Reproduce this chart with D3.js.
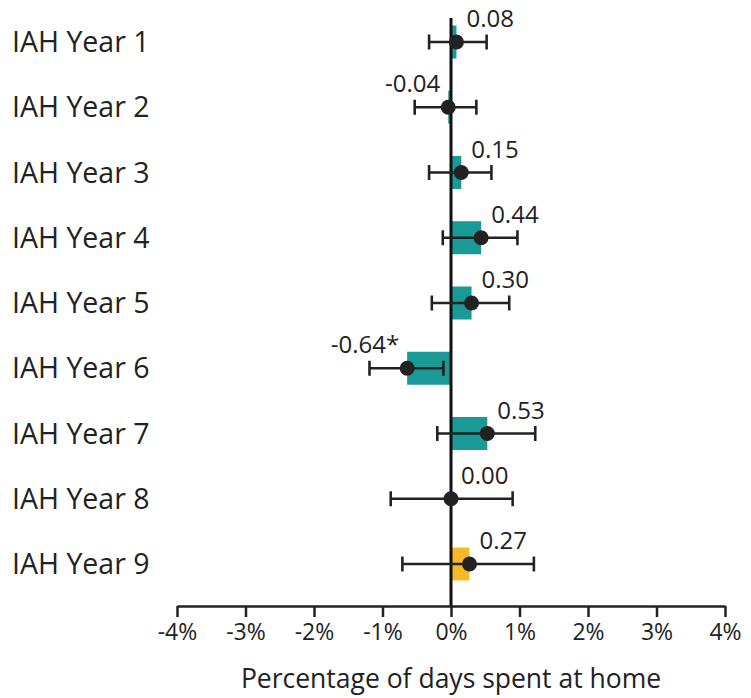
<!DOCTYPE html>
<html>
<head>
<meta charset="utf-8">
<script src="https://cdn.jsdelivr.net/npm/d3@7"></script>
<style>
  html, body { margin: 0; padding: 0; background: #fff; }
  svg { display: block; }
  text { font-family: "Open Sans", "Noto Sans", sans-serif; fill: #222; }
</style>
</head>
<body>
<svg id="chart" width="751" height="698"></svg>
<script>
const categories = ["IAH Year 1","IAH Year 2","IAH Year 3","IAH Year 4","IAH Year 5","IAH Year 6","IAH Year 7","IAH Year 8","IAH Year 9"];
const values = [0.08, -0.04, 0.15, 0.44, 0.30, -0.64, 0.53, 0.00, 0.27];
const lower  = [-0.32, -0.53, -0.32, -0.12, -0.28, -1.19, -0.20, -0.88, -0.71];
const upper  = [0.52, 0.37, 0.59, 0.97, 0.85, -0.11, 1.23, 0.90, 1.21];
const valueLabels = ["0.08","-0.04","0.15","0.44","0.30","-0.64*","0.53","0.00","0.27"];
const groups = ["a","a","a","a","a","a","a","a","b"];
const tickValues = [-4, -3, -2, -1, 0, 1, 2, 3, 4];

const data = categories.map((c, i) => ({
  cat: c, v: values[i], lo: lower[i], hi: upper[i], label: valueLabels[i], g: groups[i]
}));

const svg = d3.select("#chart");
const x = d3.scaleLinear().domain([-4, 4]).range([177, 725]);
const y = d3.scalePoint().domain(categories).range([42, 564]);
const color = d3.scaleOrdinal().domain(["a","b"]).range(["#1a9a96", "#f6b927"]);
const barH = 33;
const axisY = 606;

// bars
svg.append("g").selectAll("rect").data(data).join("rect")
  .attr("x", d => Math.min(x(0), x(d.v)))
  .attr("width", d => Math.abs(x(d.v) - x(0)))
  .attr("y", d => y(d.cat) - barH / 2)
  .attr("height", barH)
  .attr("fill", d => color(d.g));

// zero line
svg.append("line")
  .attr("x1", x(0)).attr("x2", x(0))
  .attr("y1", 18).attr("y2", axisY)
  .attr("stroke", "#111").attr("stroke-width", 3);

// error bars
const eb = svg.append("g").attr("stroke", "#222").attr("stroke-width", 2.6);
eb.selectAll("line.h").data(data).join("line").attr("class", "h")
  .attr("x1", d => x(d.lo)).attr("x2", d => x(d.hi))
  .attr("y1", d => y(d.cat)).attr("y2", d => y(d.cat));
eb.selectAll("line.l").data(data).join("line").attr("class", "l")
  .attr("x1", d => x(d.lo)).attr("x2", d => x(d.lo))
  .attr("y1", d => y(d.cat) - 7.5).attr("y2", d => y(d.cat) + 7.5);
eb.selectAll("line.r").data(data).join("line").attr("class", "r")
  .attr("x1", d => x(d.hi)).attr("x2", d => x(d.hi))
  .attr("y1", d => y(d.cat) - 7.5).attr("y2", d => y(d.cat) + 7.5);

// points
svg.append("g").selectAll("circle").data(data).join("circle")
  .attr("cx", d => x(d.v)).attr("cy", d => y(d.cat))
  .attr("r", 7.5).attr("fill", "#222");

// value labels
svg.append("g").selectAll("text").data(data).join("text")
  .attr("x", d => d.v < 0 ? x(d.v) - 8 : x(d.v) + 10)
  .attr("y", d => y(d.cat) - 15)
  .attr("text-anchor", d => d.v < 0 ? "end" : "start")
  .attr("font-size", 24)
  .text(d => d.label);

// category labels
svg.append("g").selectAll("text").data(data).join("text")
  .attr("x", 12)
  .attr("y", d => y(d.cat) + 10)
  .attr("font-size", 28.5)
  .text(d => d.cat);

// x axis
const axis = d3.axisBottom(x).tickValues(tickValues).tickFormat(d => d + "%").tickSize(11).tickSizeOuter(0).tickPadding(7);
const ag = svg.append("g").attr("transform", `translate(0,${axisY})`).call(axis);
ag.select(".domain").attr("stroke", "#222").attr("stroke-width", 2.5);
ag.selectAll(".tick line").attr("stroke", "#222").attr("stroke-width", 2.5);
ag.selectAll(".tick text").attr("font-size", 23).attr("font-family", "'Open Sans', 'Noto Sans', sans-serif").attr("fill", "#222");

// axis title
svg.append("text")
  .attr("x", x(0)).attr("y", 688)
  .attr("text-anchor", "middle")
  .attr("font-size", 26.5)
  .text("Percentage of days spent at home");
</script>
</body>
</html>
